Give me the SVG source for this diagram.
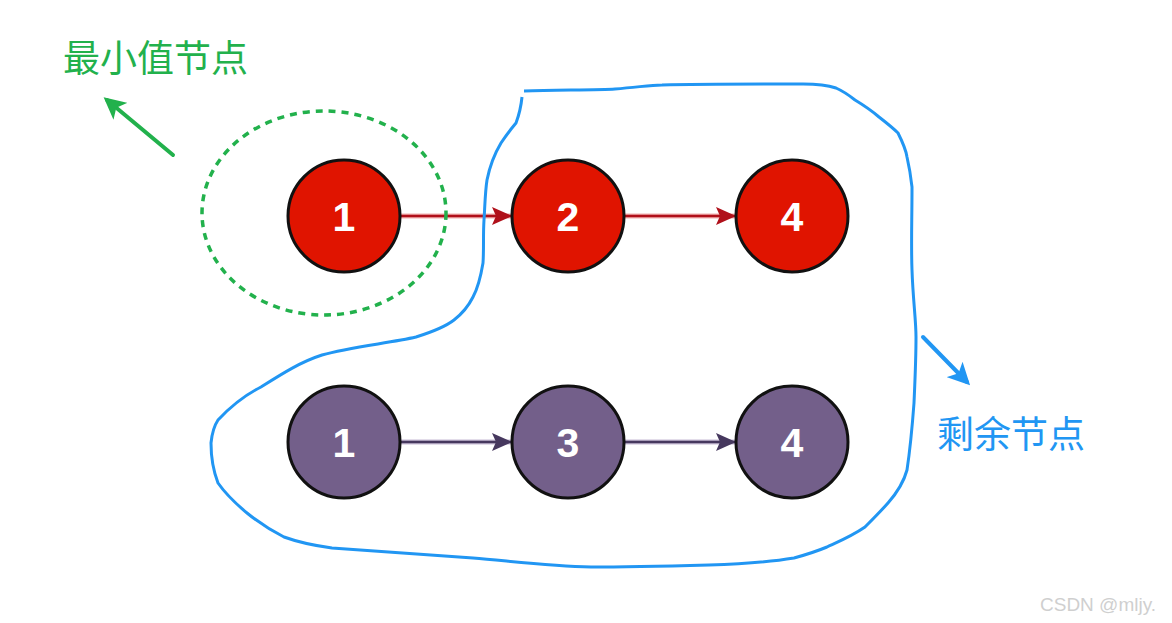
<svg xmlns="http://www.w3.org/2000/svg" width="1172" height="623" viewBox="0 0 1172 623">
<style>
.red{fill:#e01400;stroke:#111;stroke-width:3}
.pur{fill:#735f8a;stroke:#111;stroke-width:3}
.num{font-family:"Liberation Sans",Arial,sans-serif;font-weight:bold;font-size:41px;fill:#fff;text-anchor:middle}
.lbl{font-family:"Noto Sans CJK SC","Noto Sans",sans-serif;font-size:37px}
</style>
<defs>
<marker id="ar" viewBox="0 0 10 10" refX="10" refY="5" markerWidth="8" markerHeight="8" markerUnits="userSpaceOnUse" orient="auto" style="overflow:visible"><path d="M0,0 L10,5 L0,10 L3,5 Z" fill="#b0101a" transform="scale(2.2) translate(-5.5,-2.7)"/></marker>
<marker id="ap" viewBox="0 0 10 10" refX="10" refY="5" markerWidth="8" markerHeight="8" markerUnits="userSpaceOnUse" orient="auto" style="overflow:visible"><path d="M0,0 L10,5 L0,10 L3,5 Z" fill="#46385e" transform="scale(2.2) translate(-5.5,-2.7)"/></marker>
<marker id="ag" viewBox="0 0 10 10" refX="8" refY="5" markerWidth="22" markerHeight="22" markerUnits="userSpaceOnUse" orient="auto"><path d="M0,0 L10,5 L0,10 L2.5,5 Z" fill="#22b14c"/></marker>
<marker id="ab" viewBox="0 0 10 10" refX="8" refY="5" markerWidth="22" markerHeight="22" markerUnits="userSpaceOnUse" orient="auto"><path d="M0,0 L10,5 L0,10 L2.5,5 Z" fill="#2196f3"/></marker>
</defs>
<rect width="1172" height="623" fill="#fff"/>
<g id="connectors">
<line x1="401" y1="216" x2="512" y2="216" stroke="#f2b0b0" stroke-width="5"/>
<line x1="401" y1="216" x2="512" y2="216" stroke="#b0101a" stroke-width="2.5"/>
<path d="M512,216 L492,207 L496,216 L492,225 Z" fill="#b0101a"/>
<line x1="625" y1="216" x2="736" y2="216" stroke="#f2b0b0" stroke-width="5"/>
<line x1="625" y1="216" x2="736" y2="216" stroke="#b0101a" stroke-width="2.5"/>
<path d="M736,216 L716,207 L720,216 L716,225 Z" fill="#b0101a"/>
<line x1="401" y1="442" x2="512" y2="442" stroke="#c8bcd6" stroke-width="5"/>
<line x1="401" y1="442" x2="512" y2="442" stroke="#46385e" stroke-width="2.5"/>
<path d="M512,442 L492,433 L496,442 L492,451 Z" fill="#46385e"/>
<line x1="625" y1="442" x2="736" y2="442" stroke="#c8bcd6" stroke-width="5"/>
<line x1="625" y1="442" x2="736" y2="442" stroke="#46385e" stroke-width="2.5"/>
<path d="M736,442 L716,433 L720,442 L716,451 Z" fill="#46385e"/>
</g>
<g id="n-r1"><circle class="red" cx="344" cy="216" r="56"/><text class="num" x="344" y="231">1</text></g>
<g id="n-r2"><circle class="red" cx="568" cy="216" r="56"/><text class="num" x="568" y="231">2</text></g>
<g id="n-r4"><circle class="red" cx="792" cy="216" r="56"/><text class="num" x="792" y="231">4</text></g>
<g id="n-p1"><circle class="pur" cx="344" cy="442" r="56"/><text class="num" x="344" y="457">1</text></g>
<g id="n-p3"><circle class="pur" cx="568" cy="442" r="56"/><text class="num" x="568" y="457">3</text></g>
<g id="n-p4"><circle class="pur" cx="792" cy="442" r="56"/><text class="num" x="792" y="457">4</text></g>
<g id="min-group">
<ellipse cx="324" cy="213" rx="122" ry="102" fill="none" stroke="#22b14c" stroke-width="3.5" stroke-dasharray="7,6"/>
<line x1="173" y1="155" x2="107" y2="100" stroke="#22b14c" stroke-width="4" stroke-linecap="round" marker-end="url(#ag)"/>
<text class="lbl" x="63" y="72" fill="#22b14c">最小值节点</text>
</g>
<g id="rest-group">
<path d="M524,91 C560,90 600,90 615,89 C640,87 650,85 662,85 C700,84 760,84 803,84 C820,84 830,86 836,88 C845,92 850,96 855,100 C865,106 872,111 879,117 C888,124 893,128 898,133 C904,145 906,150 907,157 C910,170 911,178 912,187 C912,220 911,245 912,270 C913,300 916,320 916,337 C916,360 915,380 914,403 C912,430 910,450 907,470 C903,485 895,495 888,503 C880,512 872,520 865,527 C852,536 840,541 827,547 C815,552 805,555 794,558 C770,562 740,564 709,565 C670,566 630,567 591,567 C550,566 510,561 473,558 C420,554 370,551 332,548 C310,545 295,541 284,537 C270,530 258,522 247,513 C235,503 225,493 218,483 C213,470 211,455 211,443 C212,433 214,426 218,420 C232,405 245,395 261,387 C280,375 300,362 322,355 C350,347 390,343 416,337 C432,332 445,327 454,320 C463,313 469,305 473,297 C479,286 481,275 483,263 C484,248 483,235 484,220 C485,205 485,193 487,180 C490,165 495,153 501,143 C507,134 511,129 516,123 C519,115 521,107 522,97" fill="none" stroke="#2196f3" stroke-width="3"/>
<line x1="923" y1="337" x2="967" y2="382" stroke="#2196f3" stroke-width="4" stroke-linecap="round" marker-end="url(#ab)"/>
<text class="lbl" x="937" y="448" fill="#2196f3">剩余节点</text>
</g>
<text x="1040" y="611" font-family="Liberation Sans,Arial,sans-serif" font-size="19" fill="#cfcfcf">CSDN @mljy.</text>
</svg>
